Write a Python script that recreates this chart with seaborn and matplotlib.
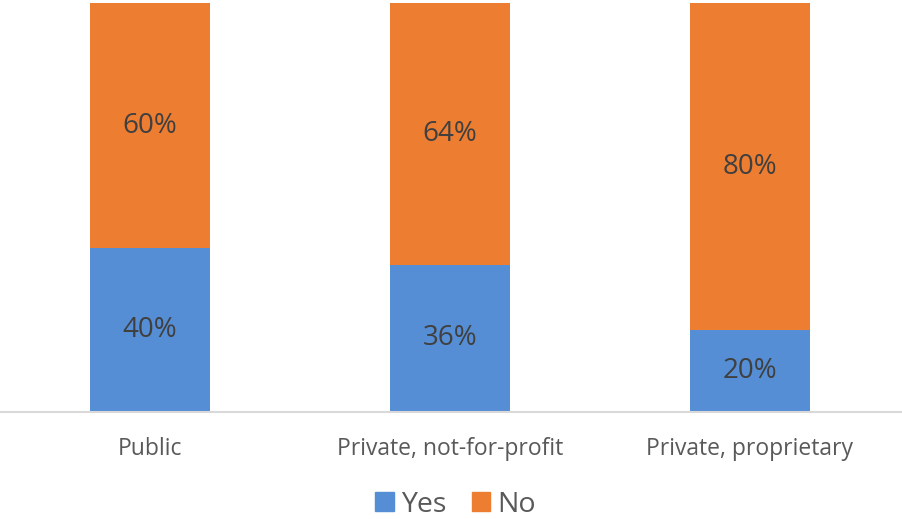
import seaborn as sns
import matplotlib.pyplot as plt
import pandas as pd
from matplotlib.patches import Patch

categories = ["Public", "Private, not-for-profit", "Private, proprietary"]
yes = [40, 36, 20]
no = [60, 64, 80]

sns.set_style("white")
plt.rcParams["font.family"] = ["Open Sans", "DejaVu Sans"]

blue = "#558ED5"
orange = "#ED7D31"

df = pd.DataFrame({"category": categories, "Yes": yes, "No": no})
df["total"] = df["Yes"] + df["No"]

fig = plt.figure(figsize=(9.02, 5.19), dpi=100)
ax = fig.add_axes([0, 107 / 519, 1, 409 / 519])

sns.barplot(data=df, x="category", y="total", color=orange, width=0.4,
            saturation=1, linewidth=0, ax=ax)
sns.barplot(data=df, x="category", y="Yes", color=blue, width=0.4,
            saturation=1, linewidth=0, ax=ax)

for i, (y_, n_) in enumerate(zip(yes, no)):
    ax.text(i, y_ / 2, f"{y_}%", ha="center", va="center", fontsize=20, color="#404040")
    ax.text(i, y_ + n_ / 2, f"{n_}%", ha="center", va="center", fontsize=20, color="#404040")

ax.set_xlim(-0.5, 2.507)
ax.set_ylim(0, 100)
ax.set_xlabel("")
ax.set_ylabel("")
ax.set_yticks([])
ax.tick_params(axis="x", length=0, labelsize=16.5, labelcolor="#595959", pad=18)
for s in ["top", "left", "right"]:
    ax.spines[s].set_visible(False)
ax.spines["bottom"].set_color("#D9D9D9")
ax.spines["bottom"].set_linewidth(1.5)

handles = [Patch(color=blue, label="Yes"), Patch(color=orange, label="No")]
fig.legend(handles=handles, loc="center", bbox_to_anchor=(0.505, 0.027), ncol=2,
           frameon=False, fontsize=20.5, labelcolor="#595959", handlelength=0.65,
           handleheight=0.65, handletextpad=0.25, columnspacing=0.9)

fig.savefig("out.png", dpi=100)
